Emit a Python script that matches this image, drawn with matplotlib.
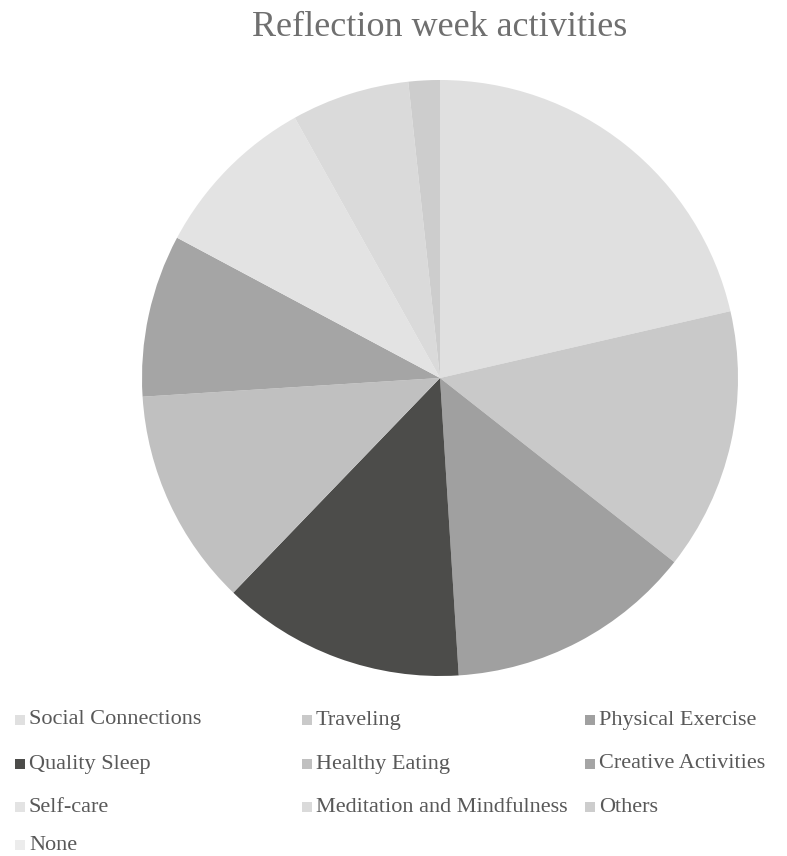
import matplotlib.pyplot as plt
from matplotlib.patches import Rectangle

labels = ["Social Connections", "Traveling", "Physical Exercise", "Quality Sleep",
          "Healthy Eating", "Creative Activities", "Self-care",
          "Meditation and Mindfulness", "Others", "None"]
values = [21.4, 14.2, 13.4, 13.2, 11.8, 8.8, 9.1, 6.4, 1.7, 0.0]
colors = ["#e0e0e0", "#c9c9c9", "#a0a0a0", "#4c4c4a", "#c0c0c0",
          "#a5a5a5", "#e3e3e3", "#dadada", "#cdcdcd", "#ececec"]

plt.rcParams["font.family"] = ["Liberation Serif", "DejaVu Serif"]

W, H = 787, 856
fig = plt.figure(figsize=(W / 100, H / 100), dpi=100)

# pie axes: centre (440, 378) px, radius 298 px
cx, cy, r = 440, 378, 298
ax = fig.add_axes([(cx - r) / W, 1 - (cy + r) / H, 2 * r / W, 2 * r / H])
ax.pie(values, colors=colors, startangle=90, counterclock=False,
       wedgeprops=dict(linewidth=0))
ax.set_xlim(-1, 1)
ax.set_ylim(-1, 1)
ax.set_aspect("equal")

fig.text(cx / W, 1 - 28 / H, "Reflection week activities", ha="center",
         va="center", fontsize=26, color="#6f6f6f")

# legend laid out row by row, three columns
col_x = [15, 302, 585]
row_y = [720, 764, 807, 845]
for i, (lab, c) in enumerate(zip(labels, colors)):
    x = col_x[i % 3]
    y = row_y[i // 3]
    fig.patches.append(Rectangle((x / W, 1 - (y + 5) / H), 10 / W, 10 / H,
                                 transform=fig.transFigure, facecolor=c,
                                 edgecolor="none"))
    fig.text((x + 14) / W, 1 - y / H, lab, ha="left", va="center",
             fontsize=16, color="#595959")

fig.savefig("out.png", dpi=100)
